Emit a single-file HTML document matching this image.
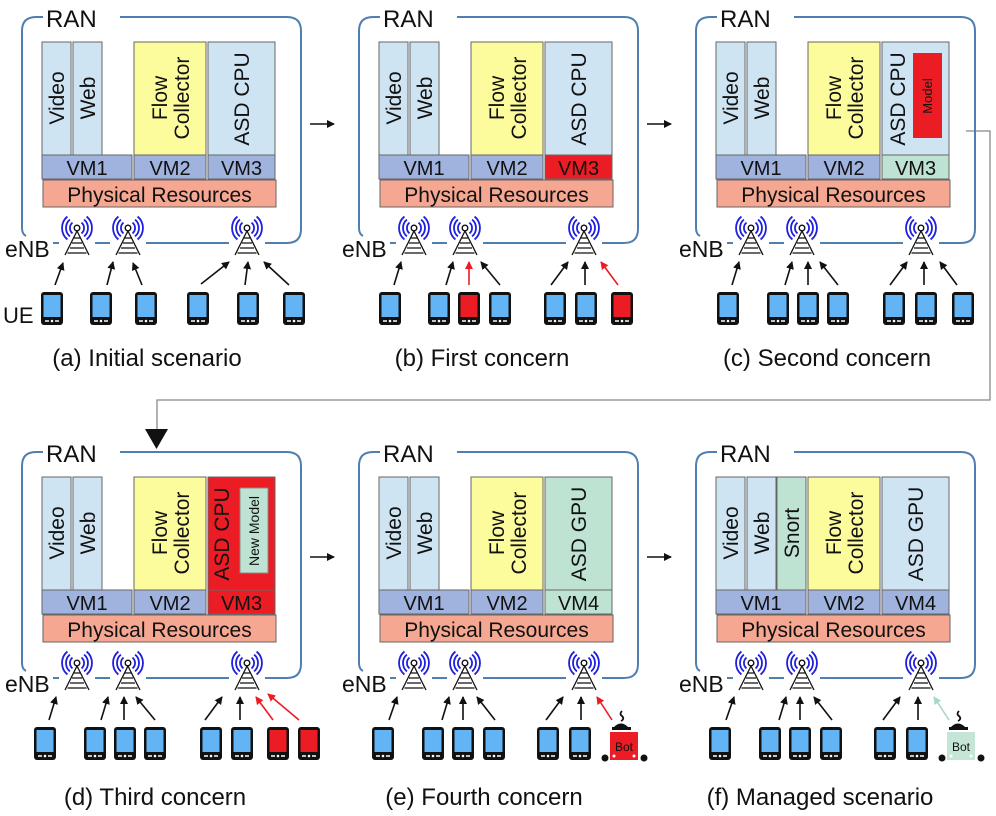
<!DOCTYPE html>
<html><head><meta charset="utf-8"><style>
html,body{margin:0;padding:0;background:#fff}
svg{display:block}
text{font-family:"Liberation Sans",sans-serif;fill:#111}
</style></head><body>
<svg width="996" height="816" viewBox="0 0 996 816" xmlns="http://www.w3.org/2000/svg">
<defs>
<symbol id="tw" overflow="visible">
<rect x="-18" y="-16" width="36" height="46" fill="#fff"/>
<g fill="none" stroke="#1f1fe0" stroke-width="1.8">
<path d="M4.5,-5.4A7,7 0 0 1 4.5,5.4M7.1,-8.4A11,11 0 0 1 7.1,8.4M9.6,-11.5A15,15 0 0 1 9.6,11.5"/>
<path d="M-4.5,-5.4A7,7 0 0 0 -4.5,5.4M-7.1,-8.4A11,11 0 0 0 -7.1,8.4M-9.6,-11.5A15,15 0 0 0 -9.6,11.5"/>
</g>
<g stroke="#111" stroke-width="1.3" fill="none">
<path d="M0,3L-12,27M0,3L12,27M-3,10H3M-5,15H5M-7,20H7M-9.5,25H9.5"/>
</g>
<circle r="2.8" fill="#fff" stroke="#111" stroke-width="1.4"/>
</symbol>
<symbol id="pb" overflow="visible">
<rect x="0" y="0" width="22" height="33" rx="3" fill="#111"/>
<rect x="2.5" y="3" width="17" height="22" fill="#62b4f4"/>
<path d="M4,29H8M14,29H18" stroke="#fff" stroke-width="1.4"/>
<circle cx="11" cy="29" r="1.3" fill="#fff"/>
</symbol>
<symbol id="pr" overflow="visible">
<rect x="0" y="0" width="22" height="33" rx="3" fill="#111"/>
<rect x="2.5" y="3" width="17" height="22" fill="#ec1c24"/>
<path d="M4,29H8M14,29H18" stroke="#fff" stroke-width="1.4"/>
<circle cx="11" cy="29" r="1.3" fill="#fff"/>
</symbol>
<marker id="ak" markerWidth="8" markerHeight="8" refX="7" refY="4" orient="auto" markerUnits="userSpaceOnUse"><path d="M0,0L8,4L0,8z" fill="#111"/></marker>
<marker id="ar" markerWidth="8" markerHeight="8" refX="7" refY="4" orient="auto" markerUnits="userSpaceOnUse"><path d="M0,0L8,4L0,8z" fill="#ec1c24"/></marker>
<marker id="ag" markerWidth="8" markerHeight="8" refX="7" refY="4" orient="auto" markerUnits="userSpaceOnUse"><path d="M0,0L8,4L0,8z" fill="#a8d8c6"/></marker>
<g id="ranbox">
<path d="M43,17H36Q22,17 22,31V228Q22,234 26,236M120,17H287Q301,17 301,31V229Q301,243 287,243H53" fill="none" stroke="#4f7fb0" stroke-width="2"/>
</g>
<g id="common">
<use href="#ranbox"/>
<text x="46" y="27" font-size="24">RAN</text>
<text x="5" y="257" font-size="23">eNB</text>
<g stroke="#666" stroke-width="1">
<rect x="42" y="42" width="29" height="113" fill="#cfe4f2"/>
<rect x="73" y="42" width="29" height="113" fill="#cfe4f2"/>
<rect x="134" y="42" width="72" height="113" fill="#fdfc9c"/>
<rect x="42" y="155" width="90" height="24" fill="#a0b3de"/>
<rect x="134" y="155" width="72" height="24" fill="#a0b3de"/>
<rect x="43" y="180" width="233" height="27" fill="#f6a791"/>
</g>
<text transform="translate(64,98) rotate(-90)" font-size="21" text-anchor="middle">Video</text>
<text transform="translate(95,98) rotate(-90)" font-size="21" text-anchor="middle">Web</text>
<text transform="translate(167,98) rotate(-90)" font-size="21" text-anchor="middle">Flow</text>
<text transform="translate(189,98) rotate(-90)" font-size="21" text-anchor="middle">Collector</text>
<text x="87" y="175" font-size="20" text-anchor="middle">VM1</text>
<text x="170" y="175" font-size="20" text-anchor="middle">VM2</text>
<text x="159.5" y="202" font-size="21" text-anchor="middle">Physical Resources</text>
<use href="#tw" x="77" y="228"/><use href="#tw" x="128" y="228"/><use href="#tw" x="247" y="228"/>
</g>
<g id="bot">
<path d="M284,286q4,-2 1,-5q-3,-2 0,-5" fill="none" stroke="#111" stroke-width="1.8"/>
<path d="M276,293q8,-9 16,0z" fill="#111"/><rect x="275" y="292" width="19" height="3" fill="#111"/>
<circle cx="268" cy="323" r="3.5" fill="#111"/><circle cx="307" cy="323" r="3.5" fill="#111"/>
</g>
</defs>

<g stroke="#111" stroke-width="1.5" marker-end="url(#ak)">
<line x1="310" y1="124" x2="334" y2="124"/>
<line x1="647" y1="124" x2="671" y2="124"/>
<line x1="310" y1="557" x2="334" y2="557"/>
<line x1="647" y1="557" x2="671" y2="557"/>
</g>
<path d="M966,131H990V400H157V430" fill="none" stroke="#888" stroke-width="1.3"/>
<path d="M145,429H168L156.5,449z" fill="#111"/>

<!-- (a) -->
<g>
<use href="#common"/>
<rect x="208" y="42" width="67" height="113" fill="#cfe4f2" stroke="#666"/>
<rect x="208" y="155" width="67" height="24" fill="#a0b3de" stroke="#666"/>
<text transform="translate(249,99) rotate(-90)" font-size="21" text-anchor="middle">ASD CPU</text>
<text x="241.5" y="175" font-size="20" text-anchor="middle">VM3</text>
<text x="3" y="323" font-size="22">UE</text>
<use href="#pb" x="41" y="292"/><use href="#pb" x="90" y="292"/><use href="#pb" x="135" y="292"/>
<use href="#pb" x="187" y="292"/><use href="#pb" x="237" y="292"/><use href="#pb" x="283" y="292"/>
<g stroke="#111" stroke-width="1.6" marker-end="url(#ak)">
<line x1="55" y1="285" x2="63" y2="263"/><line x1="107" y1="285" x2="113" y2="262"/><line x1="142" y1="285" x2="133" y2="263"/>
<line x1="201" y1="284" x2="229" y2="262"/><line x1="245" y1="285" x2="248" y2="262"/><line x1="289" y1="285" x2="264" y2="262"/>
</g>
<text x="147" y="366" font-size="24" text-anchor="middle">(a) Initial scenario</text>
</g>

<!-- (b) -->
<g transform="translate(337,0)">
<use href="#common"/>
<rect x="208" y="42" width="67" height="113" fill="#cfe4f2" stroke="#666"/>
<rect x="208" y="155" width="67" height="24" fill="#ec1c24" stroke="#666"/>
<text transform="translate(249,99) rotate(-90)" font-size="21" text-anchor="middle">ASD CPU</text>
<text x="241.5" y="175" font-size="20" text-anchor="middle">VM3</text>
<use href="#pb" x="42" y="292"/><use href="#pb" x="91" y="292"/><use href="#pr" x="121" y="292"/><use href="#pb" x="152" y="292"/>
<use href="#pb" x="207" y="292"/><use href="#pb" x="238" y="292"/><use href="#pr" x="274" y="292"/>
<g stroke="#111" stroke-width="1.6" marker-end="url(#ak)">
<line x1="57" y1="285" x2="64" y2="262"/><line x1="109" y1="285" x2="116" y2="262"/><line x1="163" y1="285" x2="144" y2="262"/>
<line x1="214" y1="285" x2="231" y2="262"/><line x1="248" y1="285" x2="248" y2="262"/>
</g>
<g stroke="#ec1c24" stroke-width="1.6" marker-end="url(#ar)">
<line x1="132" y1="285" x2="132" y2="262"/><line x1="281" y1="285" x2="264" y2="262"/>
</g>
<text x="145" y="366" font-size="24" text-anchor="middle">(b) First concern</text>
</g>

<!-- (c) -->
<g transform="translate(674,0)">
<use href="#common"/>
<rect x="208" y="42" width="67" height="113" fill="#cfe4f2" stroke="#666"/>
<rect x="208" y="155" width="67" height="24" fill="#bfe3d3" stroke="#666"/>
<rect x="239" y="53" width="29" height="85" fill="#ec1c24"/>
<text transform="translate(231,99) rotate(-90)" font-size="21" text-anchor="middle">ASD CPU</text>
<text transform="translate(258,96) rotate(-90)" font-size="13" text-anchor="middle">Model</text>
<text x="241.5" y="175" font-size="20" text-anchor="middle">VM3</text>
<use href="#pb" x="43" y="292"/><use href="#pb" x="93" y="292"/><use href="#pb" x="123" y="292"/><use href="#pb" x="153" y="292"/>
<use href="#pb" x="209" y="292"/><use href="#pb" x="241" y="292"/><use href="#pb" x="278" y="292"/>
<g stroke="#111" stroke-width="1.6" marker-end="url(#ak)">
<line x1="58" y1="285" x2="65" y2="262"/><line x1="111" y1="285" x2="118" y2="262"/><line x1="134" y1="285" x2="134" y2="262"/><line x1="164" y1="285" x2="146" y2="262"/>
<line x1="216" y1="285" x2="233" y2="262"/><line x1="250" y1="285" x2="250" y2="262"/><line x1="283" y1="285" x2="266" y2="262"/>
</g>
<text x="153" y="366" font-size="24" text-anchor="middle">(c) Second concern</text>
</g>

<!-- (d) -->
<g transform="translate(0,435)">
<use href="#common"/>
<rect x="208" y="42" width="67" height="113" fill="#ec1c24" stroke="#666"/>
<rect x="208" y="155" width="67" height="24" fill="#ec1c24" stroke="#666"/>
<rect x="240" y="53" width="28" height="85" fill="#bfe3d3" stroke="#888"/>
<text transform="translate(229,99) rotate(-90)" font-size="21" text-anchor="middle">ASD CPU</text>
<text transform="translate(259,96) rotate(-90)" font-size="14" text-anchor="middle">New Model</text>
<text x="241.5" y="175" font-size="20" text-anchor="middle">VM3</text>
<use href="#pb" x="34" y="292"/><use href="#pb" x="84" y="292"/><use href="#pb" x="114" y="292"/><use href="#pb" x="144" y="292"/>
<use href="#pb" x="200" y="292"/><use href="#pb" x="231" y="292"/><use href="#pr" x="267" y="292"/><use href="#pr" x="298" y="292"/>
<g stroke="#111" stroke-width="1.6" marker-end="url(#ak)">
<line x1="49" y1="285" x2="56" y2="262"/><line x1="101" y1="285" x2="108" y2="262"/><line x1="124" y1="285" x2="124" y2="262"/><line x1="155" y1="285" x2="136" y2="262"/>
<line x1="205" y1="285" x2="222" y2="262"/><line x1="240" y1="285" x2="240" y2="262"/>
</g>
<g stroke="#ec1c24" stroke-width="1.6" marker-end="url(#ar)">
<line x1="273" y1="285" x2="256" y2="262"/><line x1="299" y1="285" x2="268" y2="259"/>
</g>
<text x="155" y="370" font-size="24" text-anchor="middle">(d) Third concern</text>
</g>

<!-- (e) -->
<g transform="translate(337,435)">
<use href="#common"/>
<rect x="208" y="42" width="67" height="113" fill="#bfe3d3" stroke="#666"/>
<rect x="208" y="155" width="67" height="24" fill="#bfe3d3" stroke="#666"/>
<text transform="translate(249,99) rotate(-90)" font-size="21" text-anchor="middle">ASD GPU</text>
<text x="241.5" y="175" font-size="20" text-anchor="middle">VM4</text>
<use href="#pb" x="35" y="292"/><use href="#pb" x="85" y="292"/><use href="#pb" x="115" y="292"/><use href="#pb" x="146" y="292"/>
<use href="#pb" x="200" y="292"/><use href="#pb" x="232" y="292"/>
<use href="#bot"/>
<rect x="273" y="297" width="28" height="28" fill="#ec1c24"/>
<text x="287" y="316" font-size="12" text-anchor="middle">Bot</text>
<circle cx="277" cy="321" r="1.5" fill="#fff"/><circle cx="297" cy="321" r="1.5" fill="#fff"/>
<g stroke="#111" stroke-width="1.6" marker-end="url(#ak)">
<line x1="52" y1="285" x2="60" y2="262"/><line x1="105" y1="285" x2="112" y2="262"/><line x1="126" y1="285" x2="126" y2="262"/><line x1="158" y1="285" x2="140" y2="262"/>
<line x1="209" y1="285" x2="226" y2="262"/><line x1="244" y1="285" x2="244" y2="262"/>
</g>
<g stroke="#ec1c24" stroke-width="1.6" marker-end="url(#ar)"><line x1="275" y1="285" x2="260" y2="262"/></g>
<text x="147" y="370" font-size="24" text-anchor="middle">(e) Fourth concern</text>
</g>

<!-- (f) -->
<g transform="translate(674,435)">
<use href="#common"/>
<rect x="103" y="42" width="29" height="113" fill="#bfe3d3" stroke="#666"/>
<text transform="translate(125,98) rotate(-90)" font-size="21" text-anchor="middle">Snort</text>
<rect x="208" y="42" width="67" height="113" fill="#cfe4f2" stroke="#666"/>
<rect x="208" y="155" width="67" height="24" fill="#a0b3de" stroke="#666"/>
<text transform="translate(249,99) rotate(-90)" font-size="21" text-anchor="middle">ASD GPU</text>
<text x="241.5" y="175" font-size="20" text-anchor="middle">VM4</text>
<use href="#pb" x="35" y="292"/><use href="#pb" x="85" y="292"/><use href="#pb" x="115" y="292"/><use href="#pb" x="146" y="292"/>
<use href="#pb" x="200" y="292"/><use href="#pb" x="232" y="292"/>
<use href="#bot"/>
<rect x="273" y="297" width="28" height="28" fill="#c5e6d7"/>
<text x="287" y="316" font-size="12" text-anchor="middle">Bot</text>
<circle cx="277" cy="321" r="1.5" fill="#fff"/><circle cx="297" cy="321" r="1.5" fill="#fff"/>
<g stroke="#111" stroke-width="1.6" marker-end="url(#ak)">
<line x1="52" y1="285" x2="60" y2="262"/><line x1="105" y1="285" x2="112" y2="262"/><line x1="126" y1="285" x2="126" y2="262"/><line x1="158" y1="285" x2="140" y2="262"/>
<line x1="209" y1="285" x2="226" y2="262"/><line x1="244" y1="285" x2="244" y2="262"/>
</g>
<g stroke="#a8d8c6" stroke-width="1.6" marker-end="url(#ag)"><line x1="275" y1="285" x2="260" y2="262"/></g>
<text x="146" y="370" font-size="24" text-anchor="middle">(f) Managed scenario</text>
</g>
</svg>
</body></html>
